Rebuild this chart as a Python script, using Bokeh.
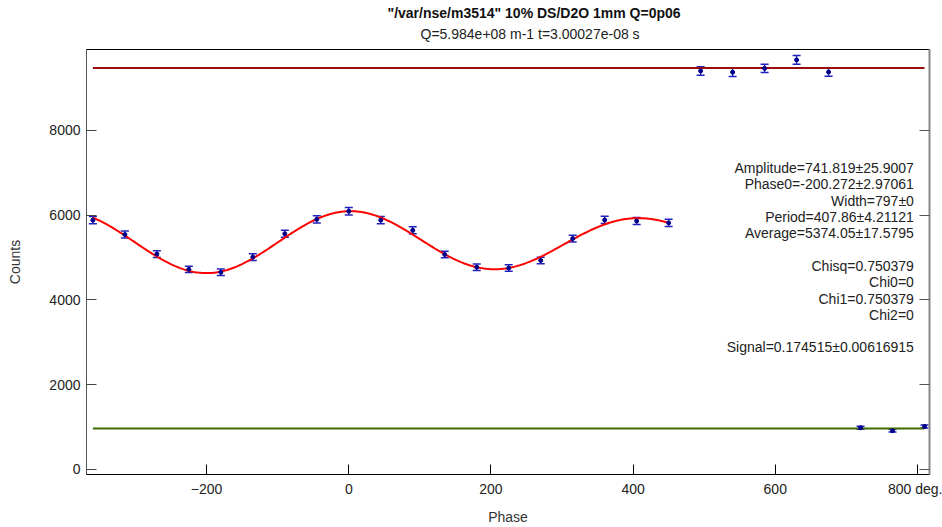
import numpy as np
from bokeh.plotting import figure
from bokeh.models import (Range1d, LinearAxis, Whisker, TeeHead, ColumnDataSource, Label, Title,
                          FixedTicker, CustomLabelingPolicy)
from bokeh.embed import file_html
from bokeh.resources import INLINE

# ---- data ----
x_main = [-360, -315, -270, -225, -180, -135, -90, -45, 0, 45, 90, 135, 180, 225, 270, 315, 360, 405, 450]
y_main = [5880, 5540, 5080, 4720, 4650, 5010, 5560, 5900, 6090, 5880, 5640, 5070, 4770, 4750, 4930, 5445, 5885, 5860, 5815]
e_main = [85, 82, 80, 76, 76, 79, 83, 85, 86, 85, 83, 79, 77, 76, 78, 82, 85, 85, 85]

x_high = [495, 540, 585, 630, 675]
y_high = [9400, 9370, 9460, 9660, 9375]
e_high = [100, 100, 100, 102, 100]

x_low = [720, 765, 810]
y_low = [985, 915, 1015]
e_low = [35, 33, 35]

level_high = 9470
level_low = 967
level_x = [-360, 810]

# fit parameters (as printed on the chart)
amplitude = 741.819
phase0 = -200.272
width = 797.0
period = 407.86
average = 5374.05
fit_x_start, fit_x_end = -360, 450

x_ticks = [-200, 0, 200, 400, 600, 800]
y_ticks = [0, 2000, 4000, 6000, 8000]

title_text = '"/var/nse/m3514" 10% DS/D2O 1mm Q=0p06'
subtitle_text = 'Q=5.984e+08 m-1 t=3.00027e-08 s'
info_lines = [
    "Amplitude=741.819\u00b125.9007",
    "Phase0=-200.272\u00b12.97061",
    "Width=797\u00b10",
    "Period=407.86\u00b14.21121",
    "Average=5374.05\u00b117.5795",
    "",
    "Chisq=0.750379",
    "Chi0=0",
    "Chi1=0.750379",
    "Chi2=0",
    "",
    "Signal=0.174515\u00b10.00616915",
]

FONT = "Liberation Sans"
FS = "14px"

p = figure(width=942, height=527, output_backend="svg", toolbar_location=None,
           x_range=Range1d(-369, 817), y_range=Range1d(-118, 9905),
           min_border_left=86, min_border_right=13, min_border_top=49, min_border_bottom=53,
           title=None)
p.xgrid.visible = False
p.ygrid.visible = False
p.outline_line_color = "black"
p.outline_line_width = 1
p.background_fill_color = "white"
p.border_fill_color = "white"

# axes
xa = p.xaxis[0]
xa.ticker = FixedTicker(ticks=x_ticks)
xa.major_label_overrides = {800: "800 deg."}
xa.minor_tick_line_color = None
xa.major_tick_in = 10
xa.major_tick_out = 0
xa.major_tick_line_color = "black"
xa.axis_line_color = "black"
xa.major_label_standoff = 6
xa.major_label_text_font = FONT
xa.major_label_text_font_size = FS
xa.major_label_text_color = "#222222"
xa.axis_label = "Phase"
xa.axis_label_text_font = FONT
xa.axis_label_text_font_size = FS
xa.axis_label_text_font_style = "normal"
xa.axis_label_text_color = "#333333"
xa.axis_label_standoff = 9

ya = p.yaxis[0]
ya.ticker = FixedTicker(ticks=y_ticks)
ya.minor_tick_line_color = None
ya.major_tick_in = 10
ya.major_tick_out = 0
ya.major_tick_line_color = "#444444"
ya.axis_line_color = "#555555"
ya.major_label_standoff = 6
ya.major_label_text_font = FONT
ya.major_label_text_font_size = FS
ya.major_label_text_color = "#222222"
ya.axis_label = "Counts"
ya.axis_label_text_font = FONT
ya.axis_label_text_font_size = FS
ya.axis_label_text_font_style = "normal"
ya.axis_label_text_color = "#333333"
ya.axis_label_standoff = 23

ra = LinearAxis(ticker=FixedTicker(ticks=y_ticks))
ra.major_label_text_font_size = "0px"
ra.major_label_policy = CustomLabelingPolicy(code="return new Set()")
ra.major_label_standoff = 0
ra.minor_tick_line_color = None
ra.major_tick_in = 10
ra.major_tick_out = 0
ra.major_tick_line_color = "#555555"
ra.axis_line_color = "#888888"
ra.axis_line_width = 2
p.add_layout(ra, "right")

# titles
p.add_layout(Title(text=subtitle_text, align="left", offset=334, text_font=FONT,
                   text_font_size=FS, text_font_style="normal", text_color="#222222",
                   standoff=15), "above")
p.add_layout(Title(text=title_text, align="left", offset=301, text_font=FONT,
                   text_font_size=FS, text_font_style="bold", text_color="#111111",
                   standoff=-8), "above")

# horizontal levels
p.line(level_x, [level_high, level_high], line_color="#990f0f", line_width=2)
p.line(level_x, [level_low, level_low], line_color="#3d6b00", line_width=2)

# fit curve from printed parameters
fx = np.linspace(fit_x_start, fit_x_end, 400)
d = fx - phase0
fy = average - amplitude * np.cos(2 * np.pi * d / period) * np.exp(-0.5 * (d / width) ** 2)
p.line(fx, fy, line_color="#ff0000", line_width=2)

# data points with error bars
for xs, ys, es in [(x_main, y_main, e_main), (x_high, y_high, e_high), (x_low, y_low, e_low)]:
    src = ColumnDataSource(dict(x=xs, y=ys,
                                lo=[a - b for a, b in zip(ys, es)],
                                hi=[a + b for a, b in zip(ys, es)]))
    w = Whisker(source=src, base="x", lower="lo", upper="hi", dimension="height",
                line_color="#2222bb", line_width=1.3,
                upper_head=TeeHead(size=8, line_color="#2222bb", line_width=1.5),
                lower_head=TeeHead(size=8, line_color="#2222bb", line_width=1.5))
    p.add_layout(w)
    p.scatter("x", "y", source=src, size=4, marker="circle", fill_color="#000088", line_color="#000088")

# info text block
info = Label(x=795, y=7300, text="\n".join(info_lines), text_align="right", text_baseline="top",
             text_font=FONT, text_font_size=FS, text_color="#222222", text_line_height=1.02)
p.add_layout(info)

open("out.html", "w").write(file_html(p, INLINE))
